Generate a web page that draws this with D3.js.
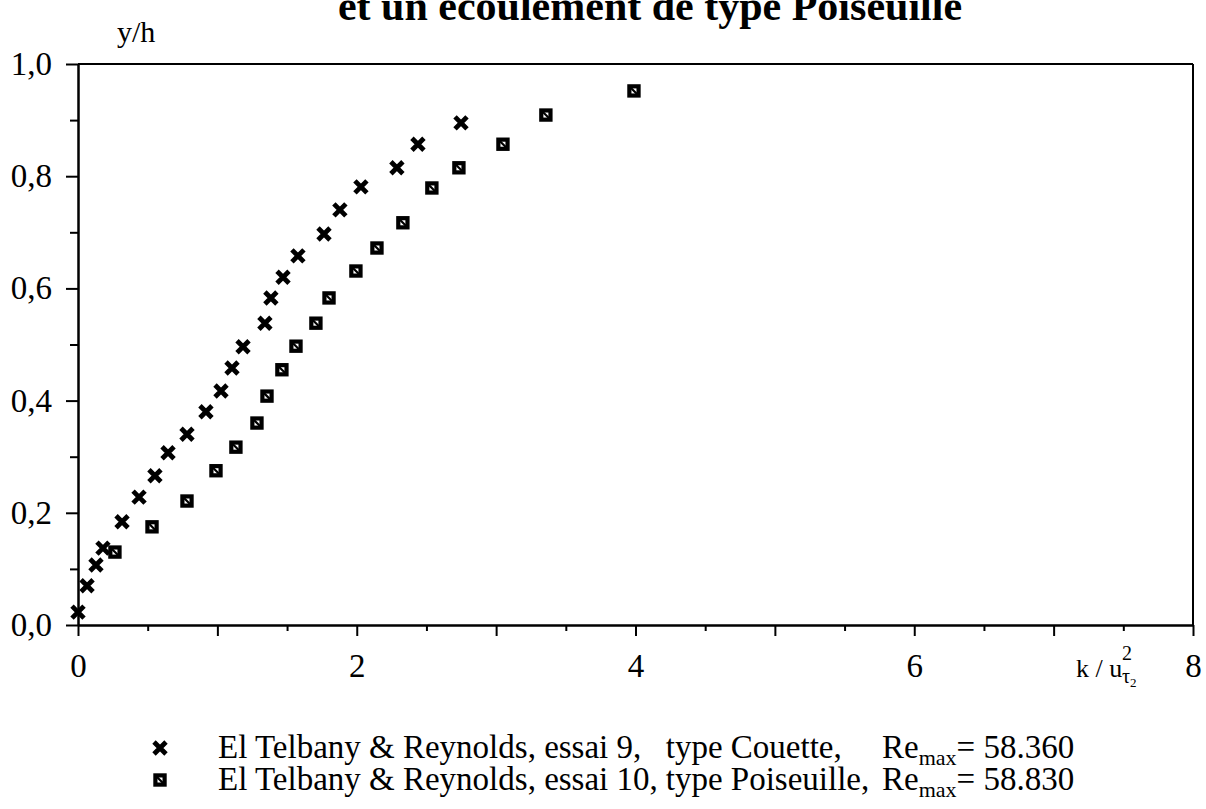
<!DOCTYPE html>
<html>
<head>
<meta charset="utf-8">
<script src="https://cdn.jsdelivr.net/npm/d3@7/dist/d3.min.js"></script>
<style>
  body { margin: 0; background: #fff; }
  svg { display: block; }
  text { font-family: "Liberation Serif", "Times New Roman", serif; fill: #000; }
</style>
</head>
<body>
<svg id="chart" width="1206" height="809"></svg>
<script>
// k/u_tau^2 (x) and y/h (y) — El Telbany & Reynolds, essai 9 (Couette)
const couetteK = [0.00, 0.065, 0.129, 0.179, 0.316, 0.438, 0.552, 0.646, 0.782, 0.918, 1.026, 1.105,
  1.184, 1.341, 1.384, 1.471, 1.578, 1.765, 1.879, 2.030, 2.288, 2.439, 2.748];
const couetteY = [0.023, 0.070, 0.107, 0.137, 0.184, 0.228, 0.266, 0.307, 0.340, 0.380, 0.417, 0.458,
  0.496, 0.538, 0.583, 0.620, 0.658, 0.697, 0.740, 0.781, 0.815, 0.857, 0.895];

// El Telbany & Reynolds, essai 10 (Poiseuille)
const poiseuilleK = [0.265, 0.531, 0.782, 0.990, 1.133, 1.284, 1.356, 1.463, 1.564, 1.707, 1.801,
  1.994, 2.145, 2.331, 2.539, 2.733, 3.049, 3.357, 3.989];
const poiseuilleY = [0.130, 0.175, 0.221, 0.275, 0.317, 0.360, 0.408, 0.455, 0.497, 0.538, 0.583,
  0.631, 0.672, 0.717, 0.779, 0.815, 0.857, 0.909, 0.952];

const xMajorTicks = [0, 1, 2, 3, 4, 5, 6, 7, 8];
const xMinorTicks = [0.5, 1.5, 2.5, 3.5, 4.5, 5.5, 6.5, 7.5];
const xLabelled = [0, 2, 4, 6, 8];
const yMajorTicks = [0, 0.2, 0.4, 0.6, 0.8, 1.0];
const yMinorTicks = [0.1, 0.3, 0.5, 0.7, 0.9];

const legendRows = [
  { label: "El Telbany & Reynolds, essai 9,", kind: "type Couette,", re: "58.360", marker: "cross" },
  { label: "El Telbany & Reynolds, essai 10,", kind: "type Poiseuille,", re: "58.830", marker: "square" }
];

const svg = d3.select("#chart");
const plotL = 78, plotR = 1193, plotT = 64, plotB = 625;
const FS = 33;

const x = d3.scaleLinear().domain([0, 8]).range([plotL, plotR]);
const y = d3.scaleLinear().domain([0, 1]).range([plotB, plotT]);

// title line
svg.append("text")
  .attr("x", 650).attr("y", 20)
  .attr("text-anchor", "middle")
  .attr("font-size", 42).attr("font-weight", "bold")
  .text("et un écoulement de type Poiseuille");

// frame: top and right edges
svg.append("line").attr("x1", plotL).attr("x2", plotR).attr("y1", plotT).attr("y2", plotT)
  .attr("stroke", "#000").attr("stroke-width", 2);
svg.append("line").attr("x1", plotR).attr("x2", plotR).attr("y1", plotT).attr("y2", plotB)
  .attr("stroke", "#000").attr("stroke-width", 2);

function styleAxis(g) {
  g.select(".domain").attr("stroke-width", 2);
  g.selectAll(".tick line").attr("stroke-width", 2);
  g.selectAll(".tick text").attr("font-family", "Liberation Serif, serif").attr("font-size", FS);
}

// x axis
svg.append("g").attr("transform", `translate(0,${plotB})`)
  .call(d3.axisBottom(x).tickValues(xMinorTicks).tickSize(6).tickSizeOuter(0).tickFormat(""))
  .call(styleAxis);
svg.append("g").attr("transform", `translate(0,${plotB})`)
  .call(d3.axisBottom(x).tickValues(xMajorTicks).tickSize(11).tickSizeOuter(0).tickPadding(18)
    .tickFormat(d => xLabelled.includes(d) ? String(d) : ""))
  .call(styleAxis);

// y axis
const yFmt = d => d3.format(".1f")(d).replace(".", ",");
svg.append("g").attr("transform", `translate(${plotL},0)`)
  .call(d3.axisLeft(y).tickValues(yMinorTicks).tickSize(8).tickSizeOuter(0).tickFormat(""))
  .call(styleAxis);
svg.append("g").attr("transform", `translate(${plotL},0)`)
  .call(d3.axisLeft(y).tickValues(yMajorTicks).tickSize(12).tickSizeOuter(0).tickPadding(14).tickFormat(yFmt))
  .call(styleAxis);

// axis titles
svg.append("text").attr("x", 117).attr("y", 42).attr("font-size", 30).text("y/h");
svg.append("text").attr("x", 1076).attr("y", 677).attr("font-size", 26).text("k / u");
svg.append("text").attr("x", 1122).attr("y", 660).attr("font-size", 20).text("2");
const sub = svg.append("text").attr("x", 1122).attr("y", 683).attr("font-size", 20);
sub.append("tspan").text("τ");
sub.append("tspan").attr("font-size", 13).attr("dy", 4).text("2");

// marker painters
function drawCross(g) {
  const s = 6;
  g.append("path")
    .attr("d", `M${-s},${-s}L${s},${s}M${-s},${s}L${s},${-s}`)
    .attr("stroke", "#000").attr("stroke-width", 4.8).attr("fill", "none");
}
function drawSquare(g) {
  g.append("rect").attr("x", -4.6).attr("y", -4.6).attr("width", 9.2).attr("height", 9.2)
    .attr("fill", "#fff").attr("stroke", "#000").attr("stroke-width", 4.2);
  g.append("path").attr("d", "M-3,-3L3,3").attr("stroke", "#000").attr("stroke-width", 2.2);
}

const couette = couetteK.map((k, i) => ({ k, y: couetteY[i] }));
const poiseuille = poiseuilleK.map((k, i) => ({ k, y: poiseuilleY[i] }));

svg.append("g").selectAll("g").data(poiseuille).join("g")
  .attr("transform", d => `translate(${x(d.k)},${y(d.y)})`)
  .each(function () { drawSquare(d3.select(this)); });
svg.append("g").selectAll("g").data(couette).join("g")
  .attr("transform", d => `translate(${x(d.k)},${y(d.y)})`)
  .each(function () { drawCross(d3.select(this)); });

// legend
const legend = svg.append("g");
let kindX = 0;
legendRows.forEach((r, i) => {
  const base = 758 + i * 32;
  const m = legend.append("g").attr("transform", `translate(160,${base - 10})`);
  if (r.marker === "cross") drawCross(m); else drawSquare(m);
  const t = legend.append("text").attr("x", 218).attr("y", base).attr("font-size", FS).text(r.label);
  kindX = Math.max(kindX, 218 + t.node().getComputedTextLength() + 8);
  r._base = base;
});
legendRows.forEach(r => {
  legend.append("text").attr("x", kindX).attr("y", r._base).attr("font-size", FS).text(r.kind);
  const re = legend.append("text").attr("x", 882).attr("y", r._base).attr("font-size", FS);
  re.append("tspan").text("Re");
  re.append("tspan").attr("font-size", 22).attr("dy", 7).text("max");
  re.append("tspan").attr("dy", -7).text("= " + r.re);
});
</script>
</body>
</html>
